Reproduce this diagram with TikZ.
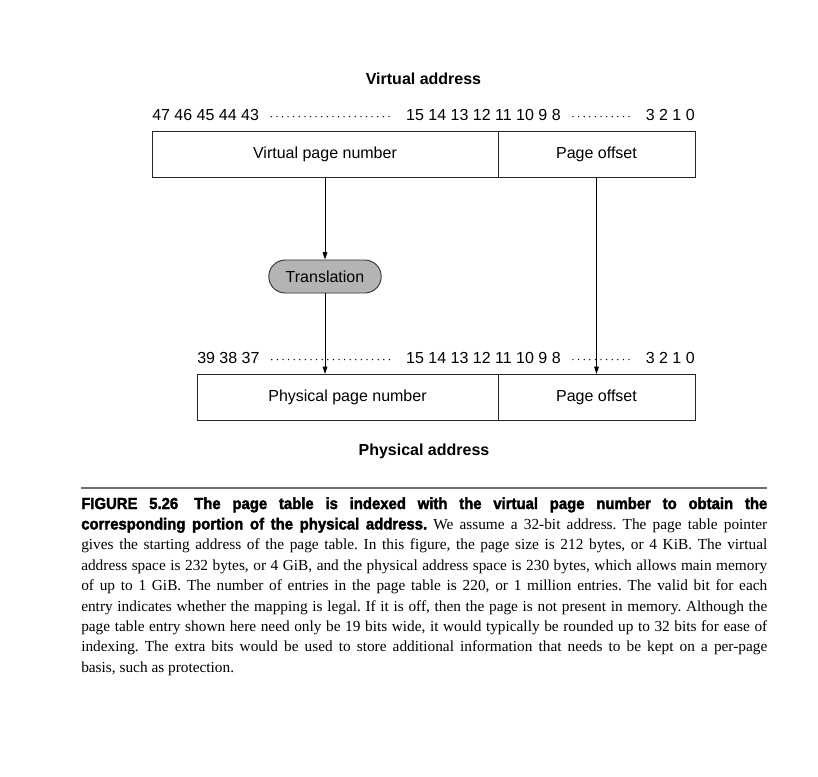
\documentclass[tikz,border=0pt]{standalone}
\usepackage{fontspec}
\setmainfont{Liberation Serif}
\setsansfont{Liberation Sans}
\newfontfamily\headfont[FakeStretch=0.93, BoldFeatures={FakeBold=2.2}]{Liberation Sans}
\usepackage{xcolor}
\usetikzlibrary{positioning, arrows.meta, shapes.misc}

\definecolor{transgray}{HTML}{B4B4B4}
\definecolor{rulegray}{HTML}{707070}

\begin{document}
\begin{tikzpicture}[
    x=0.75pt, y=-0.75pt,
    field/.style={
        rectangle,
        draw=black!85,
        line width=0.7pt,
        outer sep=0pt,
        minimum height=34.5pt,
        font=\sffamily\fontsize{12}{14}\selectfont
    },
    trans/.style={
        rounded rectangle,
        draw=black!80,
        line width=0.7pt,
        fill=transgray,
        minimum width=91pt,
        minimum height=24.75pt,
        font=\sffamily\fontsize{12}{14}\selectfont
    },
    bits/.style={
        inner sep=0pt,
        font=\sffamily\fontsize{12}{14}\selectfont
    },
    title/.style={
        font=\sffamily\bfseries\fontsize{12}{14}\selectfont
    },
    dotrow/.style={
        line width=1.1pt,
        line cap=round,
        dash pattern=on 0pt off 4.2pt,
        shorten <=9pt,
        shorten >=9pt
    },
    arrow/.style={
        line width=0.6pt,
        -{Triangle[length=5.5pt,width=3.5pt]}
    }
]
\useasboundingbox (0,0) rectangle (818,776);

% Virtual address
\node[title] (vtitle) at (423.5,79) {Virtual address};
\node[field, minimum width=259.5pt] (vpn) at (325,154) {Virtual page number};
\node[field, minimum width=147.75pt, right=0pt of vpn] (voff) {Page offset};

\node[bits, anchor=west] (v47) at (152,115) {47 46 45 44 43};
\node[bits, anchor=east] (v15) at (561,115) {15 14 13 12 11 10 9 8};
\node[bits, anchor=east] (v3) at (695,115) {3 2 1 0};

% Translation
\node[trans] (translate) at (325,276.5) {Translation};

% Physical address
\node[field, minimum width=225.75pt] (ppn) at (347.5,397) {Physical page number};
\node[field, minimum width=147.75pt, right=0pt of ppn] (poff) {Page offset};
\node[title] (ptitle) at (424,451) {Physical address};

\node[bits, anchor=west] (p39) at (197,358) {39 38 37};
\node[bits, anchor=east] (p15) at (561,358) {15 14 13 12 11 10 9 8};
\node[bits, anchor=east] (p3) at (695,358) {3 2 1 0};

% Dotted bit ranges
\draw[dotrow] ([yshift=-1.2pt]v47.east) -- ([yshift=-1.2pt]v15.west);
\draw[dotrow] ([yshift=-1.2pt]v15.east) -- ([yshift=-1.2pt]v3.west);
\draw[dotrow] ([yshift=-1.2pt]p39.east) -- ([yshift=-1.2pt]p15.west);
\draw[dotrow] ([yshift=-1.2pt]p15.east) -- ([yshift=-1.2pt]p3.west);

% Arrows
\draw[arrow] (vpn.south) -- (translate.north);
\draw[arrow] (translate.south) -- (translate.south |- ppn.north);
\draw[arrow] (voff.south) -- (poff.north);

% Caption
\draw[rulegray, line width=1.1pt] (81,488) coordinate (rulel) -- (767,488) coordinate (ruler);
\node[anchor=base west, inner sep=0pt, text width=514.5pt, align=justify,
      font=\fontsize{11.5}{15.3}\selectfont] (caption) at (81,509) {%
  \hyphenpenalty=10000\relax\frenchspacing
  {\headfont\bfseries\fontsize{12}{15.3}\selectfont FIGURE 5.26\quad The page table is indexed with the virtual page number to obtain the}\linebreak
  {\headfont\bfseries\fontsize{12}{15.3}\selectfont corresponding portion of the physical address.} We assume a 32-bit address. The page table pointer\linebreak
  gives the starting address of the page table. In this figure, the page size is 212 bytes, or 4 KiB. The virtual\linebreak
  address space is 232 bytes, or 4 GiB, and the physical address space is 230 bytes, which allows main memory\linebreak
  of up to 1 GiB. The number of entries in the page table is 220, or 1 million entries. The valid bit for each\linebreak
  entry indicates whether the mapping is legal. If it is off, then the page is not present in memory. Although the\linebreak
  page table entry shown here need only be 19 bits wide, it would typically be rounded up to 32 bits for ease of\linebreak
  indexing. The extra bits would be used to store additional information that needs to be kept on a per-page\linebreak
  basis, such as protection.};

\end{tikzpicture}
\end{document}
